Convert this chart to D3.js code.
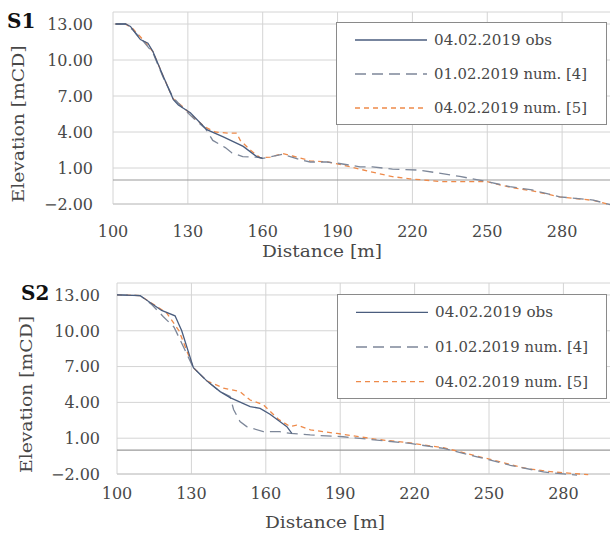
<!DOCTYPE html>
<html><head><meta charset="utf-8">
<script src="https://cdn.jsdelivr.net/npm/d3@7"></script>
<style>body{margin:0;background:#fff}svg{display:block}</style>
</head><body>
<svg id="c" width="610" height="535"></svg>
<script>
// ---- data ----
const xTicks = [100, 130, 160, 190, 220, 250, 280];
const yTicks = [-2, 1, 4, 7, 10, 13];
const seriesNames = ["04.02.2019 obs", "01.02.2019 num. [4]", "04.02.2019 num. [5]"];
const panelLabels = ["S1", "S2"];

// S1
const s1Obs = [[101,13.0],[105,13.0],[107,12.8],[109.5,12.1],[111,11.7],[114,11.4],[116,10.7],[120,8.7],[124.2,6.7],[126.2,6.25],[131,5.6],[137.6,4.2],[144.2,3.6],[152.2,2.8],[157.6,1.95],[160,1.8]];
const s1Num4 = [[101,13.0],[105,13.0],[108,12.5],[112,11.6],[116,10.6],[120,8.6],[124,6.9],[128,6.0],[133,5.0],[137,4.3],[140,3.3],[145,2.7],[147.7,2.25],[152,1.95],[157.6,1.9],[160,1.8],[168,2.15],[175,1.7],[179,1.5],[185.7,1.5],[190,1.4],[199,1.1],[204,1.1],[212,0.9],[222,0.83],[230,0.6],[239,0.3],[250,-0.14],[259,-0.55],[268,-0.83],[279,-1.4],[292.5,-1.67],[300,-2.1]];
const s1Num5 = [[101,13.0],[105,13.0],[108,12.6],[112,11.7],[116,10.7],[120,8.7],[124,6.8],[128,6.1],[133,5.1],[137,4.4],[141,4.0],[146,3.9],[149.6,3.9],[151,3.3],[155,2.5],[159,1.85],[163,1.9],[168,2.2],[172,2.0],[179,1.6],[186,1.5],[192,1.25],[203,0.7],[212,0.28],[219,0.1],[232,-0.14],[246,-0.14],[250,-0.14],[259,-0.6],[268,-0.9],[279,-1.4],[292.5,-1.7],[300,-2.1]];

// S2
const s2Obs = [[100,13.0],[109.3,12.95],[118,11.7],[123.4,11.25],[126.1,10.0],[130.8,6.9],[136.2,5.8],[141.6,4.9],[145.6,4.4],[153.7,3.65],[157.7,3.5],[161.7,3.0],[168.5,1.97],[170.5,1.4]];
const s2Num4 = [[100,13.0],[109.3,12.95],[114,12.2],[118.6,11.2],[123,10.3],[126,9.0],[130.8,6.9],[136.2,5.8],[141.6,4.9],[145.6,4.5],[147,3.4],[149.6,2.4],[152.3,1.97],[159,1.55],[165.6,1.55],[170,1.4],[177.9,1.27],[191.2,1.12],[204.8,0.84],[218.2,0.56],[231.7,0.14],[245.2,-0.56],[258.6,-1.27],[271.9,-1.83],[285.5,-2.1]];
const s2Num5 = [[100,13.0],[109.3,12.95],[114,12.3],[120,11.5],[125,10.0],[130.8,6.9],[136.2,5.8],[142.9,5.2],[149.6,4.9],[153.7,4.2],[159,3.8],[161,3.4],[165,2.6],[169.8,1.97],[172.5,2.1],[178,1.7],[183,1.55],[188.7,1.4],[204.8,0.9],[218.2,0.6],[231.7,0.2],[245.2,-0.5],[258.6,-1.2],[265.3,-1.55],[276,-1.83],[283.6,-1.95],[290,-2.05]];

const panelData = [[s1Obs, s1Num4, s1Num5], [s2Obs, s2Num4, s2Num5]];

// ---- styles ----
const colors = ["#4a5d7e", "#7d8799", "#ee8a4a"];
const dashes = [null, "11,6", "5,4"];
const serif = "'DejaVu Serif', 'Liberation Serif', serif";
const txt = "#484848";

const panels = [
  {left:113, right:612, top:12, bottom:204, tickRight:93, xLabY:237, titleX:322, titleY:257, ylabX:24, lblX:7, lblY:28,
   legend:{x:336, y:22, w:270, h:102}},
  {left:117, right:613, top:283, bottom:474, tickRight:100, xLabY:499, titleX:325, titleY:528, ylabX:32, lblX:21, lblY:300,
   legend:{x:337, y:294, w:269, h:104}}
];

const svg = d3.select("#c");

panels.forEach((p, i) => {
  const x = d3.scaleLinear().domain([100, 300]).range([p.left, p.right]);
  const y = d3.scaleLinear().domain([-2, 14]).range([p.bottom, p.top]);
  const g = svg.append("g");

  g.selectAll(".hg").data(yTicks.concat([14])).join("line")
    .attr("x1", p.left).attr("x2", 610).attr("y1", d => y(d)).attr("y2", d => y(d))
    .attr("stroke", "#d4d4d4").attr("stroke-width", 1);
  g.selectAll(".vg").data(xTicks).join("line")
    .attr("x1", d => x(d)).attr("x2", d => x(d)).attr("y1", p.top).attr("y2", p.bottom)
    .attr("stroke", "#d4d4d4").attr("stroke-width", 1);
  g.append("line").attr("x1", p.left).attr("x2", 610).attr("y1", y(0)).attr("y2", y(0))
    .attr("stroke", "#9a9a9a").attr("stroke-width", 1.2);
  g.append("line").attr("x1", p.left).attr("x2", 610).attr("y1", y(-2)).attr("y2", y(-2))
    .attr("stroke", "#c8c8c8").attr("stroke-width", 1);

  g.selectAll(".yl").data(yTicks).join("text")
    .attr("x", p.tickRight).attr("y", d => y(d)).attr("dy", "0.36em")
    .attr("text-anchor", "end").attr("font-family", serif).attr("font-size", 16)
    .attr("fill", txt).text(d => d3.format(".2f")(d));
  g.selectAll(".xl").data(xTicks).join("text")
    .attr("x", d => x(d)).attr("y", p.xLabY)
    .attr("text-anchor", "middle").attr("font-family", serif).attr("font-size", 16)
    .attr("fill", txt).text(d => d);
  g.append("text").attr("x", p.titleX).attr("y", p.titleY).attr("text-anchor", "middle")
    .attr("font-family", serif).attr("font-size", 16).attr("fill", txt)
    .attr("textLength", 120).attr("lengthAdjust", "spacingAndGlyphs").text("Distance [m]");
  const ycen = (p.top + p.bottom) / 2 + 16;
  g.append("text").attr("transform", `translate(${p.ylabX},${ycen}) rotate(-90)`)
    .attr("text-anchor", "middle").attr("font-family", serif).attr("font-size", 16).attr("fill", txt)
    .attr("textLength", 157).attr("lengthAdjust", "spacingAndGlyphs").text("Elevation [mCD]");
  g.append("text").attr("x", p.lblX).attr("y", p.lblY).attr("font-family", serif)
    .attr("font-size", 20).attr("font-weight", "bold").attr("fill", "#111").text(panelLabels[i]);

  const clipId = "clip" + i;
  svg.append("clipPath").attr("id", clipId).append("rect")
    .attr("x", p.left).attr("y", p.top - 2).attr("width", 610 - p.left).attr("height", p.bottom - p.top + 4);
  const line = d3.line().x(d => x(d[0])).y(d => y(d[1]));
  const lg = g.append("g").attr("clip-path", `url(#${clipId})`);
  [2, 1, 0].forEach(k => {
    lg.append("path").attr("d", line(panelData[i][k])).attr("fill", "none")
      .attr("stroke", colors[k]).attr("stroke-width", 1.3)
      .attr("stroke-dasharray", dashes[k]);
  });

  const L = p.legend;
  const lgd = g.append("g");
  lgd.append("rect").attr("x", L.x + 0.5).attr("y", L.y + 0.5).attr("width", L.w).attr("height", L.h)
    .attr("fill", "#fff").attr("stroke", "#8a8a8a").attr("stroke-width", 1);
  const rowH = L.h / 3;
  seriesNames.forEach((name, k) => {
    const cy = L.y + rowH * (k + 0.5) + 1;
    lgd.append("line").attr("x1", L.x + 19).attr("x2", L.x + 91).attr("y1", cy).attr("y2", cy)
      .attr("stroke", colors[k]).attr("stroke-width", 1.3).attr("stroke-dasharray", dashes[k]);
    lgd.append("text").attr("x", L.x + 98).attr("y", cy).attr("dy", "0.35em")
      .attr("font-family", serif).attr("font-size", 14).attr("fill", txt)
      .attr("textLength", name.length > 15 ? 153 : 118).attr("lengthAdjust", "spacingAndGlyphs").text(name);
  });
});
</script>
</body></html>
